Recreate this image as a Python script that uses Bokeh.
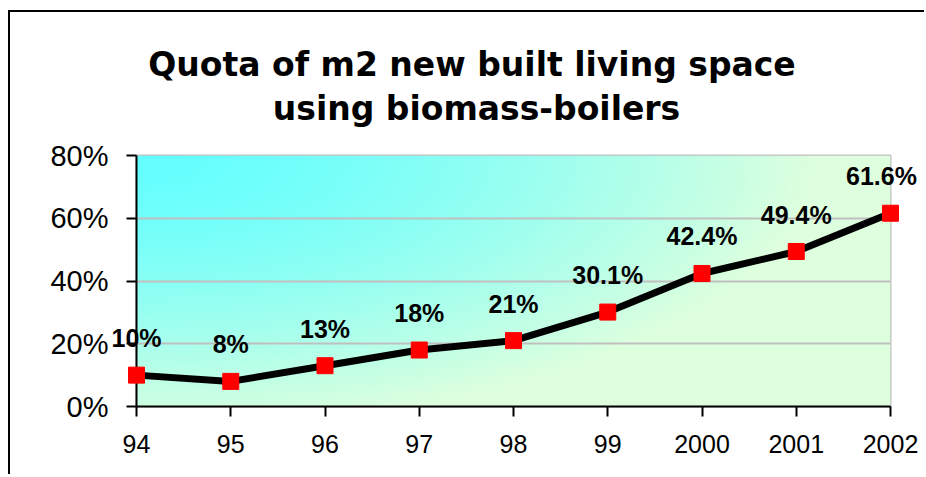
import numpy as np
from bokeh.plotting import figure
from bokeh.models import Range1d, FixedTicker, NumeralTickFormatter, ColumnDataSource
from bokeh.core.properties import value
from bokeh.embed import file_html
from bokeh.resources import INLINE

# ---- data ----
years = ["94", "95", "96", "97", "98", "99", "2000", "2001", "2002"]
quota = [0.10, 0.08, 0.13, 0.18, 0.21, 0.301, 0.424, 0.494, 0.616]
y_ticks = [0.0, 0.2, 0.4, 0.6, 0.8]
title_lines = ["Quota of m2 new built living space", "using biomass-boilers"]

labels = [f"{v * 100:g}%" for v in quota]
xs = list(range(len(years)))

# ---- layout ----
W, H = 916, 464
FL, FR, FT, FB = 126, 880, 143, 394

p = figure(width=W, height=H, output_backend="svg", toolbar_location=None,
           x_range=Range1d(0, len(years) - 1), y_range=Range1d(y_ticks[0], y_ticks[-1]),
           min_border_left=FL, min_border_right=W - FR,
           min_border_top=FT, min_border_bottom=H - FB)
p.title.visible = False
p.styles = {"border-left": "2px solid black", "border-top": "2px solid black",
            "margin-top": "10px", "margin-left": "8px"}
p.background_fill_color = "white"
p.border_fill_color = "white"
p.outline_line_color = "#C0C0C0"
p.outline_line_width = 2

# gradient background (cyan top-left -> pale green)
ny, nx = 120, 300
img = np.empty((ny, nx), dtype=np.uint32)
view = img.view(dtype=np.uint8).reshape((ny, nx, 4))
u = np.linspace(0, 1, nx)[None, :]
v = 1 - np.linspace(0, 1, ny)[:, None]
t = np.clip(np.sqrt((u / 0.9) ** 2 + (v / 1.1) ** 2), 0, 1) ** 1.5
c0 = np.array([100, 255, 255])
c1 = np.array([222, 255, 222])
for k in range(3):
    view[:, :, k] = (c0[k] + (c1[k] - c0[k]) * t).astype(np.uint8)
view[:, :, 3] = 255
p.image_rgba(image=[img], x=0, y=0, dw=len(years) - 1, dh=y_ticks[-1], level="image")

# axes
p.xaxis.ticker = FixedTicker(ticks=xs)
p.xaxis.major_label_overrides = {i: y for i, y in enumerate(years)}
p.yaxis.ticker = FixedTicker(ticks=y_ticks)
p.yaxis.formatter = NumeralTickFormatter(format="0%")
for ax in (p.xaxis, p.yaxis):
    ax.axis_line_color = "black"
    ax.axis_line_width = 2
    ax.major_tick_line_color = "black"
    ax.major_tick_line_width = 2
    ax.major_tick_in = 0
    ax.major_tick_out = 10
    ax.minor_tick_line_color = None
    ax.major_label_text_font = "Liberation Sans"
    ax.major_label_text_color = "black"
p.xaxis.major_label_text_font_size = "25px"
p.xaxis.major_label_standoff = 18
p.yaxis.major_label_text_font_size = "29px"
p.yaxis.major_label_standoff = 18

p.xgrid.visible = False
p.ygrid.ticker = FixedTicker(ticks=y_ticks)
p.ygrid.grid_line_color = "#C0C0C0"
p.ygrid.grid_line_width = 2

# series
src = ColumnDataSource(dict(x=xs, y=quota, label=labels))
p.line("x", "y", source=src, line_color="black", line_width=7, level="overlay")
p.scatter("x", "y", source=src, marker="square", size=16,
          fill_color="#FF0000", line_color="#FF0000", level="overlay")

# data labels (text glyphs at overlay level so they are not clipped)
lab_kw = dict(text_align="center", text_baseline="alphabetic",
              text_font=value("Liberation Sans"), text_font_style="bold",
              text_font_size="25px", text_color="black", level="overlay")
src_main = ColumnDataSource(dict(x=xs[:-1], y=quota[:-1], label=labels[:-1]))
p.text("x", "y", text="label", source=src_main, y_offset=-37, **lab_kw)
p.text(x=[xs[-1]], y=[quota[-1]], text=[labels[-1]], x_offset=-9, y_offset=-37, **lab_kw)

# title
for line, xo, yo in zip(title_lines, [335.5, 340], [91, 47]):
    p.text(x=[0], y=[y_ticks[-1]], text=[line], x_offset=xo, y_offset=-yo,
           text_align="center", text_baseline="alphabetic",
           text_font=value("DejaVu Sans"), text_font_style="bold",
           text_font_size="33px", text_color="black", level="overlay")

open("out.html", "w").write(file_html(p, INLINE))
